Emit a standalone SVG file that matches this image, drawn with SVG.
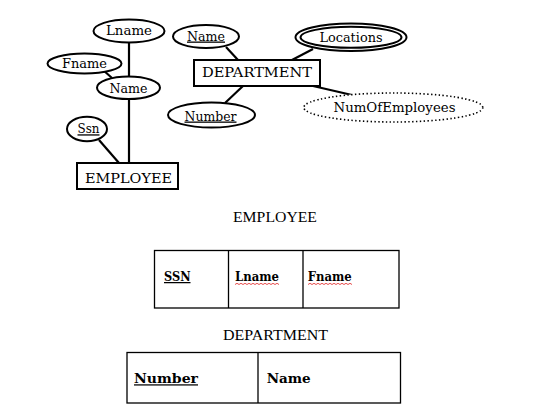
<svg xmlns="http://www.w3.org/2000/svg" width="534" height="416" viewBox="0 0 534 416">
<style>
.bg{fill:#ffffff}
.sh{fill:#ffffff;stroke:#000;stroke-width:2}
.dot{fill:#ffffff;stroke:#000;stroke-width:1.6;stroke-dasharray:1.4 2.4}
.ln{stroke:#000;stroke-width:2.2;fill:none}
.tb{fill:none;stroke:#000;stroke-width:1.3}
.t{font-family:"DejaVu Serif","Liberation Serif",serif;font-size:13px;fill:#000}
.u{text-decoration:underline}
.h{font-family:"Liberation Serif","Times New Roman",serif;font-size:15.5px;fill:#000}
.b{font-family:"DejaVu Serif","Liberation Serif",serif;font-weight:bold;font-size:12.5px;fill:#000}
.sq{fill:none;stroke:#e02020;stroke-width:0.8}
</style>
<rect class="bg" x="0" y="0" width="534" height="416"/>
<g id="connectors">
<line class="ln" x1="129" y1="42" x2="129" y2="77"/>
<line class="ln" x1="129" y1="99" x2="129" y2="163"/>
<line class="ln" x1="103" y1="70" x2="112" y2="78"/>
<line class="ln" x1="99" y1="140" x2="119" y2="163"/>
<line class="ln" x1="226" y1="47" x2="238" y2="60"/>
<line class="ln" x1="313" y1="49" x2="292" y2="60"/>
<line class="ln" x1="243" y1="86" x2="225" y2="103"/>
<line class="ln" x1="313" y1="86" x2="352" y2="95"/>
</g>
<g id="lname">
<ellipse class="sh" cx="129" cy="31" rx="35.5" ry="11.5"/>
<text class="t" x="106" y="34.5" textLength="46" lengthAdjust="spacingAndGlyphs">Lname</text>
</g>
<g id="fname">
<ellipse class="sh" cx="84.5" cy="63.5" rx="37" ry="10"/>
<text class="t" x="62" y="67.5" textLength="45" lengthAdjust="spacingAndGlyphs">Fname</text>
</g>
<g id="name">
<ellipse class="sh" cx="128.5" cy="87.7" rx="31.5" ry="11.3"/>
<text class="t" x="109.5" y="92.5" textLength="38" lengthAdjust="spacingAndGlyphs">Name</text>
</g>
<g id="ssn">
<ellipse class="sh" cx="87" cy="129" rx="20" ry="12.3"/>
<text class="t u" x="77.5" y="133.3" textLength="22" lengthAdjust="spacingAndGlyphs">Ssn</text>
</g>
<g id="employee">
<rect class="sh" x="77" y="163" width="101" height="26"/>
<text class="t" x="85" y="183.3" textLength="87" lengthAdjust="spacingAndGlyphs">EMPLOYEE</text>
</g>
<g id="dname">
<ellipse class="sh" cx="206" cy="36.5" rx="33" ry="11.5"/>
<text class="t u" x="187" y="40.5" textLength="38" lengthAdjust="spacingAndGlyphs">Name</text>
</g>
<g id="locations">
<ellipse class="sh" cx="351" cy="37.3" rx="55.5" ry="13.8"/>
<ellipse class="sh" cx="351" cy="37.3" rx="50.5" ry="10.5"/>
<text class="t" x="319.5" y="42.3" textLength="63" lengthAdjust="spacingAndGlyphs">Locations</text>
</g>
<g id="department">
<rect class="sh" x="194" y="60" width="126" height="26"/>
<text class="t" x="202" y="77" textLength="110" lengthAdjust="spacingAndGlyphs">DEPARTMENT</text>
</g>
<g id="number">
<ellipse class="sh" cx="211.5" cy="115" rx="43.5" ry="12.5"/>
<text class="t u" x="184.5" y="120.5" textLength="52" lengthAdjust="spacingAndGlyphs">Number</text>
</g>
<g id="numofemployees">
<ellipse class="dot" cx="393.3" cy="107.5" rx="89.5" ry="14.5"/>
<text class="t" x="333.5" y="112" textLength="122" lengthAdjust="spacingAndGlyphs">NumOfEmployees</text>
</g>
<g id="employee-table">
<text class="h" x="233" y="221.7" textLength="84" lengthAdjust="spacingAndGlyphs">EMPLOYEE</text>
<rect class="tb" x="154.5" y="250.5" width="244.5" height="57.5"/>
<line class="tb" x1="228.5" y1="250.5" x2="228.5" y2="308"/>
<line class="tb" x1="303" y1="250.5" x2="303" y2="308"/>
<text class="b u" x="164" y="281" textLength="26.5" lengthAdjust="spacingAndGlyphs">SSN</text>
<text class="b" x="235" y="281" textLength="44" lengthAdjust="spacingAndGlyphs">Lname</text>
<text class="b" x="307.7" y="281" textLength="44" lengthAdjust="spacingAndGlyphs">Fname</text>
<path class="sq" d="M235 284.5 l2 -1.2 l2 1.2 l2 -1.2 l2 1.2 l2 -1.2 l2 1.2 l2 -1.2 l2 1.2 l2 -1.2 l2 1.2 l2 -1.2 l2 1.2 l2 -1.2 l2 1.2 l2 -1.2 l2 1.2 l2 -1.2 l2 1.2 l2 -1.2 l2 1.2 l2 -1.2 l2 1.2"/>
<path class="sq" d="M308 284.5 l2 -1.2 l2 1.2 l2 -1.2 l2 1.2 l2 -1.2 l2 1.2 l2 -1.2 l2 1.2 l2 -1.2 l2 1.2 l2 -1.2 l2 1.2 l2 -1.2 l2 1.2 l2 -1.2 l2 1.2 l2 -1.2 l2 1.2 l2 -1.2 l2 1.2 l2 -1.2 l2 1.2"/>
</g>
<g id="department-table">
<text class="h" x="223" y="340" textLength="105" lengthAdjust="spacingAndGlyphs">DEPARTMENT</text>
<rect class="tb" x="127" y="352.5" width="273.5" height="50.5"/>
<line class="tb" x1="258" y1="352.5" x2="258" y2="403"/>
<text class="b u" x="134" y="383.3" textLength="64" lengthAdjust="spacingAndGlyphs">Number</text>
<text class="b" x="266.7" y="383.3" textLength="44" lengthAdjust="spacingAndGlyphs">Name</text>
</g>
</svg>
